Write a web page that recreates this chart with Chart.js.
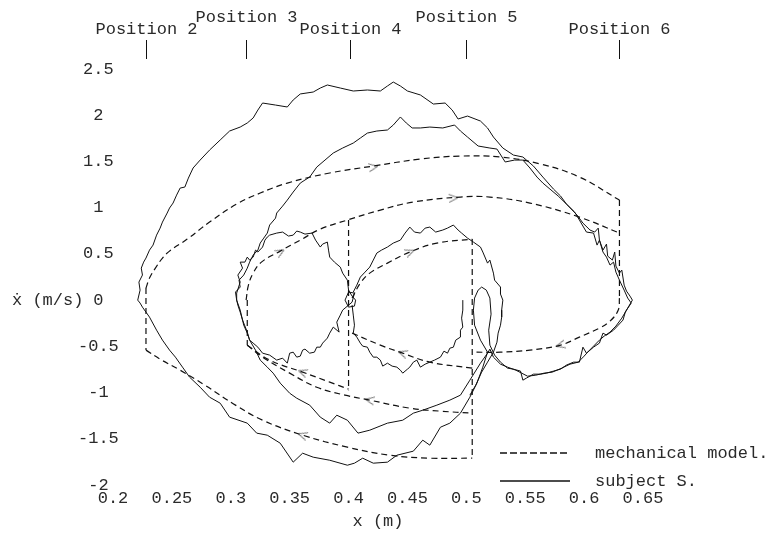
<!DOCTYPE html>
<html>
<head>
<meta charset="utf-8">
<title>Phase plane: mechanical model vs subject S.</title>
<script src="https://cdn.jsdelivr.net/npm/chart.js@4.4.1/dist/chart.umd.min.js"></script>
<style>
    html, body { margin: 0; padding: 0; background: #fff; }
    #phase-plot { display: block; }
</style>
</head>
<body>
<canvas id="phase-plot" width="783" height="534"></canvas>
<script>
    "use strict";

    // Axis ticks
    const xTicks = [0.2, 0.25, 0.3, 0.35, 0.4, 0.45, 0.5, 0.55, 0.6, 0.65];
    const vTicks = [-2, -1.5, -1, -0.5, 0, 0.5, 1, 1.5, 2, 2.5];

    // Positions marked along the top
    const positionLabels = ["Position 2", "Position 3", "Position 4", "Position 5", "Position 6"];
    const positionX = [0.228, 0.313, 0.401, 0.5, 0.630];

    // Mechanical model: elliptic arcs, [x (m), xdot (m/s)]
    const modelOuterUpper = [[0.228, 0.130], [0.231, 0.238], [0.236, 0.346], [0.242, 0.455], [0.248, 0.530], [0.263, 0.660], [0.282, 0.844], [0.305, 1.039], [0.325, 1.158], [0.348, 1.266], [0.384, 1.375], [0.421, 1.450], [0.461, 1.526], [0.495, 1.558], [0.529, 1.548], [0.563, 1.472], [0.596, 1.331], [0.630, 1.082]];
    const modelInnerUpper = [[0.313, 0], [0.315, 0.162], [0.319, 0.292], [0.326, 0.411], [0.342, 0.530], [0.359, 0.649], [0.376, 0.768], [0.399, 0.866], [0.427, 0.974], [0.455, 1.061], [0.495, 1.115], [0.520, 1.115], [0.554, 1.050], [0.596, 0.898], [0.630, 0.725]];
    const modelCentreUpper = [[0.403, 0.022], [0.410, 0.184], [0.418, 0.292], [0.433, 0.400], [0.452, 0.520], [0.475, 0.617], [0.505, 0.660]];
    const modelRightLower = [[0.630, 0.022], [0.629, -0.108], [0.622, -0.227], [0.613, -0.303], [0.596, -0.400], [0.580, -0.487], [0.554, -0.541], [0.529, -0.563], [0.505, -0.563]];
    const modelCentreLower = [[0.403, -0.357], [0.427, -0.487], [0.446, -0.574], [0.469, -0.671], [0.505, -0.736]];
    const modelLeftLower = [[0.314, -0.487], [0.333, -0.649], [0.361, -0.779], [0.384, -0.887], [0.400, -0.963]];
    const modelMidLower = [[0.314, -0.487], [0.327, -0.617], [0.350, -0.790], [0.373, -0.942], [0.397, -1.028], [0.418, -1.082], [0.452, -1.169], [0.478, -1.201], [0.505, -1.223]];
    const modelOuterLower = [[0.228, -0.541], [0.240, -0.639], [0.257, -0.758], [0.278, -0.920], [0.304, -1.136], [0.327, -1.299], [0.361, -1.461], [0.399, -1.591], [0.435, -1.678], [0.469, -1.710], [0.505, -1.710]];
    // velocity jumps at the positions: [x, from, to]
    const modelJumps = [[0.228, 0.130, -0.541], [0.314, 0, -0.487], [0.400, 0.866, -0.974], [0.505, 0.660, -1.710], [0.630, 1.082, 0.022]];

    // Subject S.: measured trajectories
    const subjectOuter = [[0.221, 0], [0.223, 0.108], [0.222, 0.195], [0.225, 0.271], [0.224, 0.346], [0.226, 0.411], [0.228, 0.455], [0.231, 0.541], [0.234, 0.595], [0.237, 0.703], [0.240, 0.779], [0.242, 0.844], [0.246, 0.942], [0.248, 0.996], [0.251, 1.050], [0.254, 1.136], [0.257, 1.212], [0.261, 1.223], [0.264, 1.320], [0.268, 1.429], [0.274, 1.515], [0.282, 1.623], [0.291, 1.732], [0.299, 1.829], [0.308, 1.872], [0.314, 1.916], [0.319, 1.970], [0.323, 2.056], [0.327, 2.132], [0.338, 2.110], [0.348, 2.089], [0.353, 2.165], [0.359, 2.230], [0.370, 2.251], [0.376, 2.294], [0.382, 2.327], [0.393, 2.294], [0.404, 2.262], [0.416, 2.273], [0.427, 2.262], [0.433, 2.316], [0.438, 2.359], [0.444, 2.316], [0.450, 2.262], [0.461, 2.219], [0.472, 2.121], [0.482, 2.132], [0.488, 2.056], [0.493, 1.959], [0.501, 1.991], [0.512, 1.937], [0.518, 1.862], [0.523, 1.764], [0.531, 1.645], [0.540, 1.569], [0.548, 1.548], [0.557, 1.450], [0.565, 1.331], [0.574, 1.201], [0.580, 1.126], [0.585, 1.039], [0.594, 0.920], [0.599, 0.833], [0.605, 0.758], [0.609, 0.736], [0.612, 0.779], [0.613, 0.649], [0.616, 0.541], [0.619, 0.606], [0.620, 0.476], [0.624, 0.433], [0.626, 0.520], [0.627, 0.368], [0.630, 0.292], [0.632, 0.325], [0.634, 0.162], [0.636, 0.097], [0.639, 0.043], [0.641, 0],
        [0.638, -0.065], [0.635, -0.130], [0.633, -0.216], [0.629, -0.271], [0.625, -0.325], [0.619, -0.379], [0.616, -0.357], [0.613, -0.465], [0.608, -0.509], [0.602, -0.574], [0.599, -0.509], [0.596, -0.671], [0.591, -0.671], [0.585, -0.703], [0.580, -0.747], [0.574, -0.768], [0.568, -0.790], [0.563, -0.801], [0.557, -0.801], [0.551, -0.844], [0.548, -0.866], [0.546, -0.768], [0.540, -0.747], [0.535, -0.736], [0.529, -0.671], [0.524, -0.595],
        [0.520, -0.487], [0.519, -0.325], [0.521, -0.152], [0.520, 0.022], [0.517, 0.108], [0.513, 0.141], [0.510, 0.108], [0.507, 0.022], [0.506, -0.108], [0.507, -0.271], [0.512, -0.433], [0.518, -0.563],
        [0.514, -0.725], [0.509, -0.898], [0.503, -1.050], [0.495, -1.223], [0.486, -1.331], [0.478, -1.375], [0.469, -1.569], [0.463, -1.515], [0.455, -1.634], [0.441, -1.678], [0.433, -1.753], [0.421, -1.764], [0.412, -1.710], [0.405, -1.764], [0.399, -1.786], [0.384, -1.732], [0.370, -1.699], [0.361, -1.656], [0.353, -1.753], [0.342, -1.548], [0.331, -1.461], [0.322, -1.439], [0.314, -1.331], [0.299, -1.266], [0.291, -1.115], [0.282, -1.050], [0.274, -0.942], [0.265, -0.833], [0.259, -0.725], [0.253, -0.617], [0.248, -0.541], [0.242, -0.433], [0.237, -0.325], [0.231, -0.184], [0.228, -0.130], [0.225, -0.076], [0.223, -0.032], [0.221, 0]];

    const subjectInner = [[0.305, 0], [0.304, 0.087], [0.308, 0.141], [0.307, 0.216], [0.311, 0.271], [0.314, 0.346], [0.316, 0.411], [0.319, 0.487], [0.323, 0.541], [0.325, 0.617], [0.328, 0.671], [0.331, 0.725], [0.333, 0.812], [0.338, 0.887], [0.339, 0.942], [0.344, 1.017], [0.348, 1.082], [0.353, 1.169], [0.359, 1.266], [0.363, 1.299], [0.367, 1.331], [0.373, 1.439], [0.380, 1.515], [0.387, 1.591], [0.395, 1.645], [0.404, 1.699], [0.410, 1.753], [0.416, 1.807], [0.424, 1.829], [0.433, 1.840], [0.438, 1.894], [0.444, 1.981], [0.449, 1.916], [0.454, 1.862], [0.461, 1.862], [0.469, 1.872], [0.480, 1.862], [0.490, 1.894], [0.495, 1.829], [0.501, 1.764], [0.510, 1.667], [0.520, 1.645], [0.526, 1.634], [0.533, 1.494], [0.541, 1.515], [0.548, 1.515], [0.554, 1.429], [0.560, 1.331], [0.565, 1.266], [0.571, 1.201], [0.578, 1.126], [0.585, 1.039], [0.592, 0.952], [0.596, 0.866], [0.602, 0.736], [0.608, 0.725], [0.611, 0.595], [0.613, 0.649], [0.616, 0.520], [0.619, 0.465], [0.622, 0.379], [0.625, 0.411], [0.627, 0.303], [0.630, 0.216], [0.634, 0.108], [0.637, 0.022], [0.640, -0.032],
        [0.636, -0.108], [0.632, -0.195], [0.627, -0.281], [0.622, -0.346], [0.617, -0.390], [0.613, -0.433], [0.608, -0.498], [0.603, -0.563], [0.600, -0.606], [0.595, -0.671], [0.588, -0.693], [0.581, -0.736], [0.573, -0.779], [0.566, -0.790], [0.559, -0.812], [0.552, -0.823], [0.547, -0.790], [0.542, -0.758], [0.535, -0.725], [0.529, -0.693], [0.523, -0.617], [0.520, -0.530],
        [0.518, -0.574], [0.512, -0.682], [0.503, -0.866], [0.495, -1.028], [0.486, -1.082], [0.475, -1.136], [0.463, -1.191], [0.455, -1.223], [0.446, -1.299], [0.433, -1.331], [0.418, -1.407], [0.408, -1.439], [0.399, -1.299], [0.390, -1.245], [0.384, -1.331], [0.376, -1.266], [0.367, -1.136], [0.356, -1.061], [0.350, -1.007], [0.342, -0.898], [0.336, -0.790], [0.331, -0.725], [0.325, -0.649], [0.321, -0.541], [0.316, -0.433], [0.314, -0.346], [0.310, -0.216], [0.308, -0.108], [0.305, 0]];

    const subjectLeftLobe = [[0.305, 0.076], [0.308, 0.195], [0.306, 0.271], [0.310, 0.346], [0.308, 0.411], [0.312, 0.411], [0.314, 0.465], [0.316, 0.433], [0.319, 0.465], [0.321, 0.541], [0.323, 0.520], [0.327, 0.574], [0.329, 0.649], [0.331, 0.682], [0.333, 0.703], [0.339, 0.725], [0.344, 0.736], [0.349, 0.693], [0.353, 0.703], [0.356, 0.747], [0.359, 0.736], [0.363, 0.714], [0.369, 0.725], [0.372, 0.649], [0.376, 0.574], [0.378, 0.606], [0.382, 0.628], [0.383, 0.541], [0.384, 0.465], [0.388, 0.411], [0.393, 0.357], [0.395, 0.292], [0.399, 0.216], [0.400, 0.108], [0.403, 0.043],
        [0.406, 0], [0.405, -0.065], [0.400, -0.076], [0.397, 0], [0.400, 0.087], [0.405, 0.076], [0.403, -0.022],
        [0.395, -0.108], [0.393, -0.162], [0.390, -0.238], [0.392, -0.346], [0.387, -0.292], [0.384, -0.357], [0.382, -0.411], [0.378, -0.465], [0.376, -0.509], [0.373, -0.509], [0.371, -0.563], [0.367, -0.574], [0.363, -0.530], [0.361, -0.541], [0.359, -0.606], [0.356, -0.617], [0.353, -0.563], [0.350, -0.574], [0.348, -0.682], [0.344, -0.628], [0.339, -0.649], [0.333, -0.595], [0.327, -0.574], [0.323, -0.509], [0.319, -0.465], [0.316, -0.433], [0.314, -0.357], [0.311, -0.271], [0.310, -0.216], [0.308, -0.130], [0.306, -0.054], [0.305, 0], [0.305, 0.076]];

    const subjectRightUpper = [[0.404, 0.087], [0.407, 0.162], [0.410, 0.249], [0.414, 0.303], [0.418, 0.357], [0.421, 0.433], [0.424, 0.509], [0.428, 0.541], [0.433, 0.574], [0.438, 0.617], [0.444, 0.649], [0.448, 0.725], [0.452, 0.790], [0.456, 0.736], [0.461, 0.725], [0.465, 0.779], [0.469, 0.790], [0.474, 0.736], [0.480, 0.758], [0.484, 0.779], [0.489, 0.812], [0.493, 0.758], [0.496, 0.725], [0.501, 0.671], [0.506, 0.628], [0.512, 0.574], [0.514, 0.520], [0.518, 0.400], [0.520, 0.433], [0.523, 0.292], [0.524, 0.216], [0.529, 0.141], [0.529, 0.065], [0.531, 0], [0.530, -0.108], [0.530, -0.184], [0.529, -0.271], [0.527, -0.357], [0.526, -0.455], [0.523, -0.563], [0.518, -0.671], [0.513, -0.779], [0.508, -0.920], [0.503, -1.028]];

    const subjectRightLower = [[0.403, -0.054], [0.404, -0.162], [0.405, -0.271], [0.404, -0.357], [0.407, -0.400], [0.410, -0.465], [0.412, -0.498], [0.416, -0.509], [0.418, -0.563], [0.421, -0.617], [0.424, -0.617], [0.427, -0.649], [0.429, -0.714], [0.433, -0.682], [0.437, -0.714], [0.441, -0.725], [0.444, -0.758], [0.446, -0.790], [0.450, -0.747], [0.452, -0.725], [0.455, -0.671], [0.458, -0.649], [0.461, -0.725], [0.465, -0.693], [0.469, -0.671], [0.473, -0.649], [0.478, -0.617], [0.481, -0.552], [0.484, -0.574], [0.486, -0.520], [0.489, -0.509], [0.491, -0.433], [0.495, -0.400], [0.495, -0.325], [0.497, -0.292], [0.496, -0.195], [0.497, -0.108], [0.497, 0]];

    // Direction arrows on the model arcs: [x, xdot, heading in degrees]
    const arrowMarks = [[0.421, 1.439, -9], [0.489, 1.104, -4], [0.342, 0.520, -30], [0.452, 0.520, -22], [0.446, -0.574, -161], [0.361, -0.779, -160], [0.418, -1.082, -169], [0.361, -1.461, -162], [0.580, -0.487, 165]];

    const legendEntries = [
        { text: "mechanical model.", dash: [7, 3] },
        { text: "subject S.", dash: [] }
    ];


    // Styles
    const ink = "#111";
    const textColor = "#2a2a2a";
    const monoFamily = "'Liberation Mono', 'DejaVu Sans Mono', monospace";
    const textFont = { family: monoFamily, size: 17 };

    var toPoints = function (pairs) {
        return pairs.map(function (p) { return { x: p[0], y: p[1] }; });
    };

    var modelSet = function (pairs, smooth) {
        return {
            label: "mechanical model.",
            data: toPoints(pairs),
            showLine: true,
            pointRadius: 0,
            borderColor: ink,
            borderWidth: 1.2,
            borderDash: [6, 4],
            tension: smooth ? 0.4 : 0
        };
    };

    var subjectSet = function (pairs) {
        return {
            label: "subject S.",
            data: toPoints(pairs),
            showLine: true,
            pointRadius: 0,
            borderColor: ink,
            borderWidth: 1,
            borderJoinStyle: "round",
            tension: 0
        };
    };

    // Chevron used for the direction arrows
    var chevron = (function () {
        var c = document.createElement("canvas");
        c.width = 13;
        c.height = 13;
        var g = c.getContext("2d");
        g.strokeStyle = "#6e6e6e";
        g.lineWidth = 1;
        g.beginPath();
        g.moveTo(2, 2.5);
        g.lineTo(11, 6.5);
        g.lineTo(2, 10.5);
        g.stroke();
        return c;
    })();

    var datasets = [];
    [modelOuterUpper, modelInnerUpper, modelCentreUpper, modelRightLower, modelCentreLower,
        modelLeftLower, modelMidLower, modelOuterLower].forEach(function (arc) {
        datasets.push(modelSet(arc, true));
    });
    modelJumps.forEach(function (j) {
        datasets.push(modelSet([[j[0], j[1]], [j[0], j[2]]], false));
    });
    [subjectOuter, subjectInner, subjectLeftLobe, subjectRightUpper, subjectRightLower].forEach(function (path) {
        datasets.push(subjectSet(path));
    });
    datasets.push({
        label: "direction",
        data: toPoints(arrowMarks),
        showLine: false,
        pointStyle: chevron,
        pointRadius: 6,
        pointRotation: function (ctx) {
            var a = arrowMarks[ctx.dataIndex];
            return a ? a[2] : 0;
        }
    });


    // Position markers above the plot
    var positionMarks = {
        id: "positionMarks",
        afterDraw: function (chart) {
            var ctx = chart.ctx, x = chart.scales.x;
            ctx.save();
            ctx.font = "17px " + monoFamily;
            ctx.fillStyle = textColor;
            ctx.strokeStyle = ink;
            ctx.lineWidth = 1;
            ctx.textAlign = "center";
            ctx.textBaseline = "middle";
            positionX.forEach(function (pos, i) {
                var px = Math.round(x.getPixelForValue(pos)) + 0.5;
                ctx.beginPath();
                ctx.moveTo(px, 40);
                ctx.lineTo(px, 59);
                ctx.stroke();
                ctx.fillText(positionLabels[i], px, i % 2 ? 17 : 29);
            });
            ctx.restore();
        }
    };

    // Horizontal y title next to the zero tick
    var velocityTitle = {
        id: "velocityTitle",
        afterDraw: function (chart) {
            var ctx = chart.ctx, y = chart.scales.y;
            ctx.save();
            ctx.font = "17px " + monoFamily;
            ctx.fillStyle = textColor;
            ctx.textAlign = "left";
            ctx.textBaseline = "middle";
            ctx.fillText("\u1E8B (m/s)", 12, y.getPixelForValue(0));
            ctx.restore();
        }
    };

    // Legend in the lower right corner
    var cornerLegend = {
        id: "cornerLegend",
        afterDraw: function (chart) {
            var ctx = chart.ctx;
            ctx.save();
            ctx.font = "17px " + monoFamily;
            ctx.fillStyle = textColor;
            ctx.strokeStyle = ink;
            ctx.lineWidth = 1.3;
            ctx.textAlign = "left";
            ctx.textBaseline = "middle";
            legendEntries.forEach(function (e, i) {
                var yy = 453 + i * 28;
                ctx.setLineDash(e.dash);
                ctx.beginPath();
                ctx.moveTo(500, yy);
                ctx.lineTo(570, yy);
                ctx.stroke();
                ctx.fillText(e.text, 595, yy);
            });
            ctx.restore();
        }
    };

    new Chart(document.getElementById("phase-plot").getContext("2d"), {
        type: "scatter",
        data: { datasets: datasets },
        options: {
            responsive: false,
            animation: false,
            events: [],
            layout: { padding: { top: 69, right: 140, bottom: 0, left: 0 } },
            plugins: {
                legend: { display: false },
                tooltip: { enabled: false }
            },
            scales: {
                x: {
                    type: "linear",
                    min: 0.2,
                    max: 0.65,
                    grid: { display: false, drawTicks: false },
                    border: { display: false },
                    afterBuildTicks: function (s) { s.ticks = xTicks.map(function (v) { return { value: v }; }); },
                    afterFit: function (s) { s.height = 49; },
                    ticks: {
                        autoSkip: false,
                        maxRotation: 0,
                        padding: 3,
                        color: textColor,
                        font: textFont,
                        callback: function (v) { return String(v); }
                    },
                    title: {
                        display: true,
                        text: "x (m)",
                        color: textColor,
                        font: textFont,
                        padding: { top: 0, bottom: 2 }
                    }
                },
                y: {
                    type: "linear",
                    min: -2,
                    max: 2.5,
                    grid: { display: false, drawTicks: false },
                    border: { display: false },
                    afterBuildTicks: function (s) { s.ticks = vTicks.map(function (v) { return { value: v }; }); },
                    afterFit: function (s) { s.width = 113; },
                    ticks: {
                        autoSkip: false,
                        // mirrored labels are not clipped to the axis box, so they can overhang the plot edge
                        mirror: true,
                        crossAlign: "center",
                        padding: -35,
                        color: textColor,
                        font: textFont,
                        callback: function (v) { return String(v); }
                    }
                }
            }
        },
        plugins: [positionMarks, velocityTitle, cornerLegend]
    });
</script>
</body>
</html>
